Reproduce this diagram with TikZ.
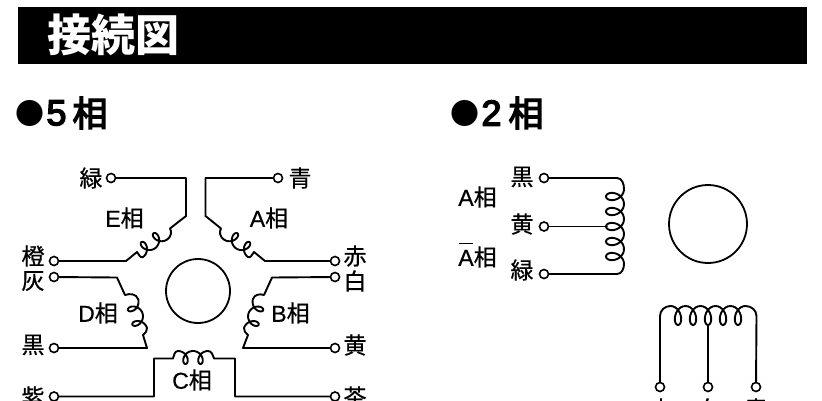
\documentclass[tikz,border=0pt]{standalone}
\usepackage{fontspec}
\setmainfont{Liberation Sans}
\newfontfamily\cjkt{Noto Sans CJK JP}
\newfontfamily\cjk[RawFeature={embolden=0.6}]{Noto Sans CJK JP}
\newfontfamily\cjkm[RawFeature={embolden=4}]{Noto Sans CJK JP}
\newfontfamily\latm[RawFeature={embolden=4}]{Liberation Sans}
\newfontfamily\latl[RawFeature={embolden=0.6}]{Liberation Sans}
\tikzset{
  wire/.style={line width=1.9pt,black,line join=round,line cap=round},
  term/.style={circle,draw=black,line width=1.6pt,fill=white,inner sep=0pt,minimum size=9pt},
  rotor/.style={circle,draw=black,line width=1.8pt,inner sep=0pt},
  clabel/.style={inner sep=0pt,font=\cjk\fontsize{23}{23}\selectfont},
  plabel/.style={inner sep=0pt,font=\latl\fontsize{23}{23}\selectfont},
  headmark/.style={inner sep=0pt,font=\cjkt\bfseries\fontsize{29}{29}\selectfont},
  headnum/.style={inner sep=0pt,font=\latm\fontsize{36}{36}\selectfont},
  headcjk/.style={inner sep=0pt,font=\cjkm\fontsize{35}{35}\selectfont},
}
% #1 start, #2 angle, #3 length, #4 loops, #5 half depth, #6 loop swing
\newcommand{\coilat}[6]{%
  \begin{scope}[shift={(#1)},rotate=#2]
    \draw[wire] plot[smooth,samples=121,domain=0:1,variable=\t]
      ({#3*\t + #6*sin(360*#4*\t)},{-#5*(1-cos(360*#4*\t))});
  \end{scope}}
\begin{document}
\begin{tikzpicture}[x=1pt,y=-1pt]
\useasboundingbox (0,0) rectangle (822,400);
\clip (0,0) rectangle (822,400);
\fill[black] (18,7) rectangle (807,64);
\node[inner sep=0pt,text=white,font=\cjkt\bfseries\fontsize{44}{44}\selectfont] (title) at (113,35) {接続図};
\node[headmark] (m5) at (30,113) {●};
\node[headnum] (n5) at (56.5,113) {5};
\node[headcjk] (p5) at (90,113) {相};
\node[headmark] (m2) at (465,113) {●};
\node[headnum] (n2) at (491.5,113) {2};
\node[headcjk] (p2) at (526,113) {相};

% rotors
\node[rotor,minimum size=64pt] (r5) at (198,291) {};
\node[rotor,minimum size=78pt] (r2) at (708,224) {};

% terminals, 5 phase
\node[term] (tE) at (111,178) {};
\node[term] (tA) at (278,178) {};
\node[term] (tEb) at (54,261) {};
\node[term] (tAb) at (335,261) {};
\node[term] (tD) at (54,277) {};
\node[term] (tB) at (335,277) {};
\node[term] (tDb) at (54,348) {};
\node[term] (tBb) at (335,348) {};
\node[term] (tC) at (54,396.5) {};
\node[term] (tCb) at (335,396.5) {};
% terminals, 2 phase
\node[term] (t1) at (544,178) {};
\node[term] (t2) at (544,226.5) {};
\node[term] (t3) at (544,274) {};
\node[term] (b1) at (660,387) {};
\node[term] (b2) at (708,387) {};
\node[term] (b3) at (756,387) {};

% E
\draw[wire] (tEb) -- (126,261) -- (137,252) to[out=-50,in=216] (143,257);
\coilat{143,257}{36}{30}{2}{6.5}{5.5}
\draw[wire] (167.3,239.4) to[out=36,in=-60] (170,228.5) -- (186,216) -- (186,178) -- (tE);
% A
\draw[wire] (tA) -- (205.5,178) -- (205.5,216) -- (221,228.5) to[out=-120,in=144] (223.7,239.4);
\coilat{223.7,239.4}{-36}{30}{2}{6.5}{5.5}
\draw[wire] (248,257) to[out=-36,in=230] (254,252) -- (265,261) -- (tAb);
% D
\draw[wire] (tDb) -- (147,348) -- (143,335) to[out=50,in=-73] (147,328);
\coilat{147,328}{107}{30.4}{2}{6.5}{5.5}
\draw[wire] (138,299) to[out=107,in=20] (125,295) -- (117,277.5) -- (tD);
% B
\draw[wire] (tB) -- (272,277.5) -- (264,295) to[out=160,in=73] (253,299);
\coilat{253,299}{252.8}{30.4}{2}{6.5}{5.5}
\draw[wire] (244,328) to[out=253,in=130] (248,335) -- (243,348) -- (tBb);
% C
\draw[wire] (tC) -- (154,396.5) -- (154,358.5) -- (173,358.5) to[out=70,in=180] (178,351);
\coilat{208,351}{180}{30}{2}{6.5}{5.5}
\draw[wire] (208,351) to[out=0,in=110] (214,358.5) -- (235,358.5) -- (235,396.5) -- (tCb);
% 2 phase, vertical
\draw[wire] (t1) -- (617,178) to[out=0,in=90] (624,189);
\coilat{624,264}{90}{75}{5}{9}{7}
\draw[wire] (t3) -- (617,274) to[out=0,in=-90] (624,264);
\draw[wire] (t2) -- (607,226.5);
% 2 phase, horizontal
\draw[wire] (b1) -- (660,316) to[out=90,in=180] (670.5,306);
\coilat{745.5,306}{180}{75}{5}{9.5}{6.5}
\draw[wire] (b3) -- (756.5,316) to[out=90,in=0] (745.5,306);
\draw[wire] (b2) -- (708,325);

% labels
\node[clabel] (l1) at (91,178) {緑};
\node[clabel] (l2) at (300,178) {青};
\node[clabel] (l3) at (33,256) {橙};
\node[clabel] (l4) at (33,281) {灰};
\node[clabel] (l5) at (33,345) {黒};
\node[clabel] (l6) at (33,397) {紫};
\node[clabel] (l7) at (355,256) {赤};
\node[clabel] (l8) at (355,281) {白};
\node[clabel] (l9) at (355,345) {黄};
\node[clabel] (l10) at (355,397) {茶};
\node[plabel] (pE) at (124.5,218) {E{\cjk 相}};
\node[plabel] (pA) at (269,218) {A{\cjk 相}};
\node[plabel] (pD) at (98,313) {D{\cjk 相}};
\node[plabel] (pB) at (290.5,313) {B{\cjk 相}};
\node[plabel] (pC) at (192,380) {C{\cjk 相}};
\node[clabel] (k1) at (522,177) {黒};
\node[clabel] (k2) at (522,224) {黄};
\node[clabel] (k3) at (522,270) {緑};
\node[plabel] (q1) at (477.5,197) {A{\cjk 相}};
\node[plabel] (q2) at (477.5,257) {A{\cjk 相}};
\draw[line width=1.5pt] (459,243.5) -- (473,243.5);
\node[clabel] (c1) at (661,409) {赤};
\node[clabel] (c2) at (708,409) {白};
\node[clabel] (c3) at (756,409) {青};
\end{tikzpicture}
\end{document}
